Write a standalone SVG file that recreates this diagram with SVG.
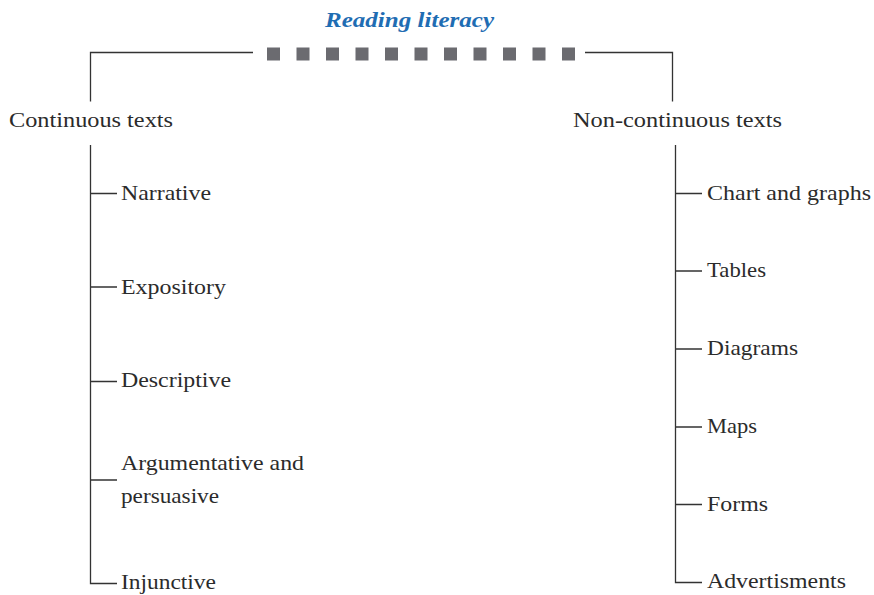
<svg xmlns="http://www.w3.org/2000/svg" width="874" height="595" viewBox="0 0 874 595">
<style>
.t{font-family:"Liberation Serif","Times New Roman",serif;font-size:22px;fill:#2b2b2b}
.title{font-family:"Liberation Serif","Times New Roman",serif;font-size:22px;font-style:italic;font-weight:bold;fill:#1f6db3}
.ln{stroke:#333;stroke-width:1.3;fill:none}
.sq{fill:#6b6b70}
</style>
<rect width="874" height="595" fill="#fff"/>
<g id="title">
<text class="title" x="325" y="27" textLength="169" lengthAdjust="spacingAndGlyphs">Reading literacy</text>
<rect class="sq" x="267" y="47.5" width="13" height="13"/>
<rect class="sq" x="296.5" y="47.5" width="13" height="13"/>
<rect class="sq" x="326" y="47.5" width="13" height="13"/>
<rect class="sq" x="355.5" y="47.5" width="13" height="13"/>
<rect class="sq" x="385" y="47.5" width="13" height="13"/>
<rect class="sq" x="414.5" y="47.5" width="13" height="13"/>
<rect class="sq" x="444" y="47.5" width="13" height="13"/>
<rect class="sq" x="473.5" y="47.5" width="13" height="13"/>
<rect class="sq" x="503" y="47.5" width="13" height="13"/>
<rect class="sq" x="532.5" y="47.5" width="13" height="13"/>
<rect class="sq" x="562" y="47.5" width="13" height="13"/>
</g>
<g id="connectors">
<path class="ln" d="M90.5 101.5V52.5H253M585 52.5H672.5V101.5"/>
<path class="ln" d="M90.5 145V583.5H117M90.5 193.5H117M90.5 287H117M90.5 381.5H117M90.5 480H117"/>
<path class="ln" d="M675.5 145V582.5H702M675.5 193.5H702M675.5 271H702M675.5 349H702M675.5 427H702M675.5 504.5H702"/>
</g>
<g id="continuous">
<text class="t" x="9" y="127" textLength="164" lengthAdjust="spacingAndGlyphs">Continuous texts</text>
</g>
<g id="noncontinuous">
<text class="t" x="573" y="127" textLength="209" lengthAdjust="spacingAndGlyphs">Non-continuous texts</text>
</g>
<g id="narrative"><text class="t" x="121" y="200" textLength="90" lengthAdjust="spacingAndGlyphs">Narrative</text></g>
<g id="expository"><text class="t" x="121" y="294" textLength="105" lengthAdjust="spacingAndGlyphs">Expository</text></g>
<g id="descriptive"><text class="t" x="121" y="387" textLength="110" lengthAdjust="spacingAndGlyphs">Descriptive</text></g>
<g id="argumentative">
<text class="t" x="121" y="470" textLength="183" lengthAdjust="spacingAndGlyphs">Argumentative and</text>
<text class="t" x="121" y="503" textLength="98" lengthAdjust="spacingAndGlyphs">persuasive</text>
</g>
<g id="injunctive"><text class="t" x="121" y="589" textLength="95" lengthAdjust="spacingAndGlyphs">Injunctive</text></g>
<g id="charts"><text class="t" x="707" y="200" textLength="164" lengthAdjust="spacingAndGlyphs">Chart and graphs</text></g>
<g id="tables"><text class="t" x="707" y="277" textLength="59" lengthAdjust="spacingAndGlyphs">Tables</text></g>
<g id="diagrams"><text class="t" x="707" y="355" textLength="91" lengthAdjust="spacingAndGlyphs">Diagrams</text></g>
<g id="maps"><text class="t" x="707" y="433" textLength="50" lengthAdjust="spacingAndGlyphs">Maps</text></g>
<g id="forms"><text class="t" x="707" y="511" textLength="61" lengthAdjust="spacingAndGlyphs">Forms</text></g>
<g id="advertisments"><text class="t" x="707" y="588" textLength="139" lengthAdjust="spacingAndGlyphs">Advertisments</text></g>
</svg>
